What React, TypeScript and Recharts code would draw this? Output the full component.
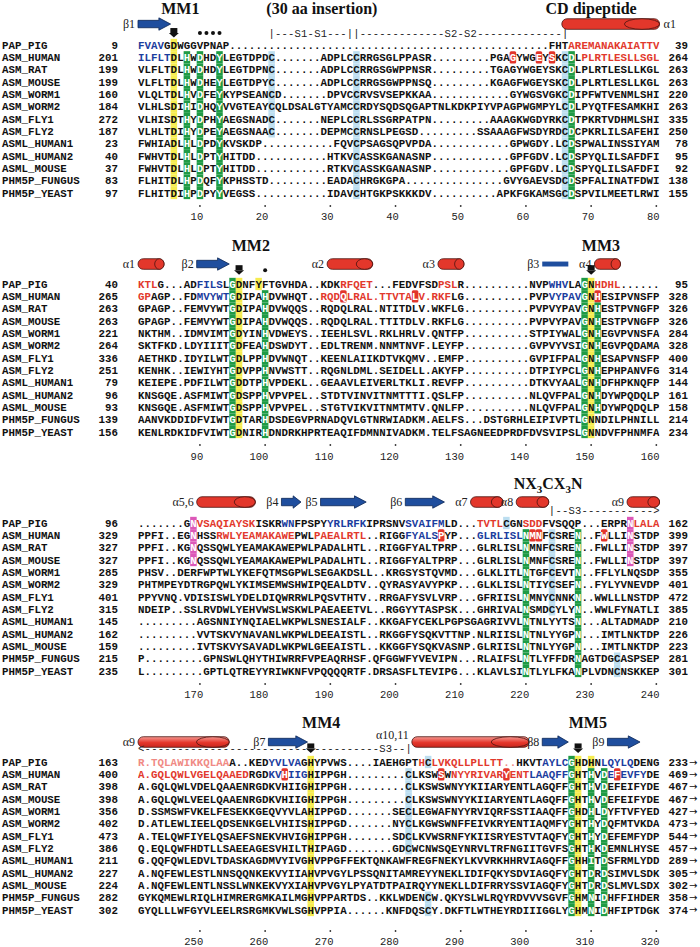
import React from 'react';
import { ScatterChart, Scatter, XAxis, YAxis, ReferenceArea, ReferenceDot } from 'recharts';

const NAMES = ['PAP_PIG', 'ASM_HUMAN', 'ASM_RAT', 'ASM_MOUSE', 'ASM_WORM1', 'ASM_WORM2', 'ASM_FLY1', 'ASM_FLY2', 'ASML_HUMAN1', 'ASML_HUMAN2', 'ASML_MOUSE', 'PHM5P_FUNGUS', 'PHM5P_YEAST'];

// ---- block 1 (alignment columns 1-80)
const START_1 = [9, 201, 199, 199, 160, 184, 272, 187, 23, 40, 37, 83, 97];
const END_1 = [39, 264, 263, 263, 220, 263, 335, 250, 78, 95, 92, 138, 155];
const TICKS_1 = [10, 20, 30, 40, 50, 60, 70, 80];
const SEQ_1 = [
  'FVAVGDWGGVPNAP' + '..........' + '..........' + '..........' + '..........' + '.........' + 'FHTAREMANAKAIATTV',
  'ILFLTDLHWDHDYLEGTDPDC' + '.......' + 'ADPLCCRRGSGLPPASR' + '.........' + 'PGAGYWGEYSKCDLPLRTLESLLSGL',
  'VLFLTDLHWDHDYLEGTDPNC' + '.......' + 'ADPLCCRRGSGWPPNSR' + '.........' + 'TGAGYWGEYSKCDLPLRTLESLLKGL',
  'VLFLTDLHWDHEYLEGTDPYC' + '.......' + 'ADPLCCRRGSGWPPNSQ' + '.........' + 'KGAGFWGEYSKCDLPLRTLESLLKGL',
  'VLQLTDLHVDFEYKYPSEANCD' + '.......' + 'DPVCCRVSVSEPKKAA' + '............' + 'GYWGSVGKCDIPFWTVENMLSHI',
  'VLHLSDIHIDHQYVVGTEAYCQLDSALGTYAMCCRDYSQDSQGAPTNLKDKPIYVPAGPWGMPYLCDLPYQTFESAMKHI',
  'VLHISDTHYDPHYAEGSNADC' + '.......' + 'NEPLCCRLSSGRPATPN' + '.........' + 'AAAGKWGDYRKCDTPKRTVDHMLSHI',
  'VLHLTDIHYDPEYAEGSNAAC' + '.......' + 'DEPMCCRNSLPEGSD' + '.........' + 'SSAAAGFWSDYRDCDCPKRLILSAFEHI',
  'FWHIADLHLDPDYKVSKDP' + '...........' + 'FQVCPSAGSQPVPDA' + '............' + 'GPWGDY.LCDSPWALINSSIYAM',
  'FWHVTDLHLDPTYHITDD' + '...........' + 'HTKVCASSKGANASNP' + '............' + 'GPFGDV.LCDSPYQLILSAFDFI',
  'FWHVTDLHLDPTYHITDD' + '...........' + 'RTKVCASSKGANASNP' + '............' + 'GPFGDV.LCDSPYQLILSAFDFI',
  'FLHITDLHPDQFYKPHSSTD' + '.........' + 'EADACHRGKGPA' + '...............' + 'GVYGAEVSDCDSPFALINATFDWI',
  'FLHITDIHPDPYYVEGSS' + '...........' + 'IDAVCHTGKPSKKKDV' + '..........' + 'APKFGKAMSGCDSPVILMEETLRWI',
];
// [column, first row, last row, kind]
const SHADE_1: [number, number, number, string][] = [
  [6, 0, 12, 'yellow'], [8, 1, 12, 'green'], [10, 1, 12, 'green'], [13, 1, 12, 'green'],
  [21, 1, 7, 'lblue'], [34, 1, 12, 'lblue'], [66, 1, 12, 'lblue'], [67, 1, 12, 'green'],
  [58, 1, 1, 'red'], [62, 1, 1, 'red'], [64, 1, 1, 'red'],
];
// [row, first column, last column, ink]
const INK_1: [number, number, number, string][] = [
  [0, 1, 4, 'blue'], [0, 67, 80, 'red'], [1, 1, 5, 'blue'], [1, 69, 80, 'red'],
];
// [kind, first column, last column, label, label side]
const SS_1: [string, number, number, string, string][] = [
  ['strand', 1, 5, 'β1', 'left'], ['helix', 66, 80, 'α1', 'right'],
];
const TITLES_1: [number, string][] = [[7, 'MM1'], [28.7, '(30 aa insertion)'], [70, 'CD dipeptide']];
const DOWN_1 = [6];
const DOTS_1 = [10, 11, 12, 13];
const MARKS_1: [number, string][] = [[21, '|---S1-S1---||-------------S2-S2-------------|']];

// ---- block 2 (columns 81-160)
const START_2 = [40, 265, 263, 263, 221, 264, 336, 251, 79, 96, 93, 139, 156];
const END_2 = [95, 328, 326, 326, 284, 328, 400, 314, 144, 161, 158, 214, 234];
const TICKS_2 = [90, 100, 110, 120, 130, 140, 150, 160];
const SEQ_2 = [
  'KTLG' + '...' + 'ADFILSLGDNFYFTGVHDA' + '..' + 'KDKRFQET' + '...' + 'FEDVFSDPSLR' + '..........' + 'NVPWHVLAGNHDHL' + '......',
  'GPAGP' + '..' + 'FDMVYWTGDIPAHDVWHQT' + '..' + 'RQDQLRAL' + '.' + 'TTVTALV' + '.' + 'RKFLG' + '..........' + 'PVPVYPAVGNHESIPVNSFP',
  'GPAGP' + '..' + 'FEMVYWTGDIPAHDVWQQS' + '..' + 'RQDQLRAL' + '.' + 'NTITDLV' + '.' + 'WKFLG' + '..........' + 'PVPVYPAVGNHESTPVNGFP',
  'GPAGP' + '..' + 'FEMVYWTGDIPAHDVWQQS' + '..' + 'RQDQLRAL' + '.' + 'TTITDLV' + '.' + 'RKFLG' + '..........' + 'PVPVYPAVGNHESTPVNGFP',
  'NKTHM' + '..' + 'IDMVIMTGDYINHVDWEYS' + '..' + 'IEEHLSVL' + '.' + 'RKLHRLV' + '.' + 'QNTFP' + '..........' + 'STPIYWALGNHEGVPVNSFA',
  'SKTFKD' + '.' + 'LDYIIITGDFEAHDSWDYT' + '..' + 'EDLTRENM' + '.' + 'NNMTNVF' + '.' + 'LEYFP' + '..........' + 'GVPVYVSIGNHEGVPQDAMA',
  'AETHKD' + '.' + 'IDYILWTGDLPPHDVWNQT' + '..' + 'KEENLAIIKDTVKQMV' + '..' + 'EMFP' + '..........' + 'GVPIFPALGNHESAPVNSFP',
  'KENHK' + '..' + 'IEWIYHTGDVPPHNVWSTT' + '..' + 'RQGNLDML' + '.' + 'SEIDELL' + '.' + 'AKYFP' + '..........' + 'DTPIYPCLGNHEPHPANVFG',
  'KEIEPE' + '.' + 'PDFILWTGDDTPHVPDEKL' + '..' + 'GEAAVLEIVERLTKLI' + '.' + 'REVFP' + '..........' + 'DTKVYAALGNHDFHPKNQFP',
  'KNSGQE' + '.' + 'ASFMIWTGDSPPHVPVPEL' + '..' + 'STDTVINVITNMTTTI' + '.' + 'QSLFP' + '..........' + 'NLQVFPALGNHDYWPQDQLP',
  'KNSGQE' + '.' + 'ASFMIWTGDSPPHVPVPEL' + '..' + 'STGTVIKVITNMTMTV' + '.' + 'QNLFP' + '..........' + 'NLQVFPALGNHDYWPQDQLP',
  'AANVKDDIDFVIWTGDTARHDSDEGVPRNADQVLGTNRWIADKM' + '.' + 'AELFS' + '...' + 'DSTGRHLEIPIVPTLGNNDILPHNILL',
  'KENLRDKIDFVIWTGDNIRHDNDRKHPRTEAQIFDMNNIVADKM' + '.' + 'TELFSAGNEEDPRDFDVSVIPSLGNNDVFPHNMFA',
];
const SHADE_2: [number, number, number, string][] = [
  [15, 0, 12, 'green'], [16, 0, 12, 'yellow'], [19, 0, 0, 'yellow'], [20, 1, 12, 'green'],
  [32, 1, 1, 'red'], [43, 1, 1, 'red'],
  [69, 0, 12, 'green'], [70, 0, 12, 'yellow'], [71, 1, 1, 'red'], [71, 2, 10, 'green'],
];
const INK_2: [number, number, number, string][] = [
  [0, 1, 3, 'red'], [0, 10, 13, 'blue'], [0, 32, 36, 'red'], [0, 47, 49, 'red'], [0, 64, 66, 'blue'], [0, 71, 74, 'red'],
  [1, 1, 2, 'red'], [1, 10, 14, 'blue'], [1, 29, 48, 'red'], [1, 64, 68, 'blue'],
];
const SS_2: [string, number, number, string, string][] = [
  ['helix', 1, 4, 'α1', 'left'], ['strand', 10, 14, 'β2', 'left'], ['helix', 30, 36, 'α2', 'left'],
  ['helix', 47, 50, 'α3', 'left'], ['bar', 63, 66, 'β3', 'left'], ['helix', 71, 74, 'α4', 'left'],
];
const TITLES_2: [number, string][] = [[17.8, 'MM2'], [71.5, 'MM3']];
const DOWN_2 = [16, 70];
const DOTS_2 = [20];
const MARKS_2: [number, string][] = [];

// ---- block 3 (columns 161-240)
const START_3 = [96, 329, 327, 327, 285, 329, 401, 315, 145, 162, 159, 215, 235];
const END_3 = [162, 399, 397, 397, 355, 401, 472, 385, 210, 226, 223, 281, 301];
const TICKS_3 = [170, 180, 190, 200, 210, 220, 230, 240];
const SEQ_3 = [
  '.......' + 'GNVSAQIAYSKISKRWNFPSPYYRLRFKIPRSNVSVAIFMLD' + '...' + 'TVTLCGNSDDFVSQQP' + '...' + 'ERPRNLALA',
  'PPFI' + '..' + 'EGNHSSRWLYEAMAKAWEPWLPAEALRTL' + '..' + 'RIGGFYALSPYP' + '...' + 'GLRLISLNMNFCSREN' + '..' + 'FWLLINSTDP',
  'PPFI' + '..' + 'KGNQSSQWLYEAMAKAWEPWLPADALHTL' + '..' + 'RIGGFYALTPRP' + '...' + 'GLRLISLNMNFCSREN' + '..' + 'FWLLINSTDP',
  'PPFI' + '..' + 'KGNQSSQWLYEAMAKAWEPWLPADALHTL' + '..' + 'RIGGFYALTPRP' + '...' + 'GLRLISLNMNFCSREN' + '..' + 'FWLLINSTDP',
  'PHSV' + '..' + 'DERFWPTWLYKEFQTMSGPWLSEGAKDSLL' + '..' + 'KRGSYSTQVMD' + '...' + 'GLKLITLNTGFCEVTN' + '..' + 'FFLYLNQSDP',
  'PHTMPEYDTRGPQWLYKIMSEMWSHWIPQEALDTV' + '..' + 'QYRASYAVYPKP' + '...' + 'GLKLISLNTIYCSEFN' + '..' + 'FYLYVNEVDP',
  'PPYVNQ.VDISISWLYDELDIQWRRWLPQSVTHTV' + '..' + 'RRGAFYSVLVRP' + '...' + 'GFRIISLNMNYCNNKN' + '..' + 'WWLLLNSTDP',
  'NDEIP..SSLRVDWLYEHVWSLWSKWLPAEAEETVL' + '..' + 'RGGYYTASPSK' + '...' + 'GHRIVALNSMDCYLYN' + '..' + 'WWLFYNATLI',
  '.........' + 'AGSNNIYNQIAELWKPWLSNESIALF' + '..' + 'KKGAFYCEKLPGPSGAGRIVVLNTNLYYTSN' + '...' + 'ALTADMADP',
  '.........' + 'VVTSKVYNAVANLWKPWLDEEAISTL' + '..' + 'RKGGFYSQKVTTNP' + '.' + 'NLRIISLNTNLYYGPN' + '...' + 'IMTLNKTDP',
  '.........' + 'IVTSKVYSAVADLWKPWLGEEAISTL' + '..' + 'KKGGFYSQKVASNP' + '.' + 'GLRIISLNTNLYYGPN' + '...' + 'IMTLNKTDP',
  'P' + '.........' + 'GPNSWLQHYTHIWRRFVPEAQRHSF' + '.' + 'QFGGWFYVEVIPN' + '...' + 'RLAIFSLNTLYFFDRNAGTDGCASPSEP',
  'L' + '.........' + 'GPTLQTREYYRIWKNFVPQQQQRTF' + '.' + 'DRSASFLTEVIPG' + '...' + 'KLAVLSINTLYLFKANPLVDNCNSKKEP',
];
const SHADE_3: [number, number, number, string][] = [
  [9, 0, 3, 'pink'], [76, 0, 3, 'pink'], [57, 0, 0, 'lblue'],
  [60, 1, 12, 'green'], [68, 1, 12, 'green'], [64, 1, 7, 'lblue'], [74, 11, 12, 'lblue'],
  [47, 1, 1, 'red'], [61, 1, 1, 'red'], [62, 1, 1, 'red'], [72, 1, 1, 'red'],
];
const INK_3: [number, number, number, string][] = [
  [0, 10, 18, 'red'], [0, 23, 24, 'blue'], [0, 30, 35, 'blue'], [0, 42, 47, 'blue'], [0, 53, 56, 'red'],
  [0, 60, 62, 'red'], [0, 77, 80, 'red'],
  [1, 13, 24, 'red'], [1, 28, 35, 'red'], [1, 42, 46, 'blue'], [1, 53, 59, 'blue'],
];
const SS_3: [string, number, number, string, string][] = [
  ['helix', 10, 18, 'α5,6', 'left'], ['strand', 23, 25, 'β4', 'left'], ['strand', 29, 35, 'β5', 'left'],
  ['strand', 42, 47, 'β6', 'left'], ['helix', 52, 56, 'α7', 'left'], ['helix', 59, 63, 'α8', 'left'],
  ['helix', 76, 80, 'α9', 'left'],
];
const TITLES_3: [number, string][] = [[63.4, 'NX3CX3N']];
const DOWN_3: number[] = [];
const DOTS_3: number[] = [];
const MARKS_3: [number, string][] = [[64, '|--S3----------->']];

// ---- block 4 (columns 241-320)
const START_4 = [163, 400, 398, 398, 356, 402, 473, 386, 211, 227, 224, 282, 302];
const END_4 = [233, 469, 467, 467, 427, 473, 544, 457, 289, 305, 302, 358, 374];
const TICKS_4 = [250, 260, 270, 280, 290, 300, 310, 320];
const SEQ_4 = [
  'R.TQLAWIKKQLAAA' + '..' + 'KEDYVLVAGHYPVWS' + '....' + 'IAEHGPTHCLVKQLLPLLTT' + '..' + 'HKVTAYLCGHDHNLQYLQDENG',
  'A.GQLQWLVGELQAAEDRGDKVHIIGHIPPGH' + '.........' + 'CLKSWSWNYYRIVARYENTLAAQFFGHTHVDEFEVFYDE',
  'A.GQLQWLVDELQAAENRGDKVHIIGHIPPGH' + '.........' + 'CLKSWSWNYYKIIARYENTLAGQFFGHTHVDEFEIFYDE',
  'A.GQLQWLVEELQAAENRGDKVHIIGHIPPGH' + '.........' + 'CLKSWSWNYYKIIARYENTLAGQFFGHTHVDEFEIFYDE',
  'D.SSMSWFVKELFESEKKGEQVYVLAHIPPGD' + '.......' + 'SECLEGWAFNYYRVIQRFSSTIAAQFFGHDHLDYFTVFYED',
  'D.ATLEWLIEELQDSENKGELVHIISHIPPGD' + '.......' + 'NYCLKGWSWNFFEIVKRYENTIAQMFYGHTHYDQFMTVKDA',
  'A.TELQWFIYELQSAEFSNEKVHVIGHIPPGH' + '.......' + 'SDCLKVWSRNFYKIISRYESTVTAQFYGHTHYDEFEMFYDP',
  'Q.EQLQWFHDTLLSAEEAGESVHILTHIPAGD' + '.......' + 'GDCWCNWSQEYNRVLTRFNGIITGVFSGHTHKDEMNLHYSE',
  'G.QQFQWLEDVLTDASKAGDMVYIVGHVPPGFFEKTQNKAWFREGFNEKYLKVVRKHHRVIAGQFFGHHITDSFRMLYDD',
  'A.NQFEWLESTLNNSQQNKEKVYIIAHVPVGYLPSSQNITAMREYYNEKLIDIFQKYSDVIAGQFYGHTDRDSIMVLSDK',
  'A.NQFEWLENTLNSSLWNKEKVYXIAHVPVGYLPYATDTPAIRQYYNEKLLDIFRRYSSVIAGQFYGHTDRDSLMVLSDX',
  'GYKQMEWLRIQLHIMRERGMKAILMGHVPPARTDS' + '..' + 'KKLWDENCW' + '.' + 'QKYSLWLRQYRDVVVSGVFGHMNIDHFFIHDER',
  'GYQLLLWFGYVLEELRSRGMKVWLSGHVPPIA' + '......' + 'KNFDQSCY' + '.' + 'DKFTLWTHEYRDIIIGGLYGHMNIDHFIPTDGK',
];
const SHADE_4: [number, number, number, string][] = [
  [27, 0, 12, 'yellow'], [42, 1, 7, 'lblue'], [45, 0, 0, 'lblue'], [45, 11, 12, 'lblue'],
  [67, 0, 12, 'green'], [68, 0, 12, 'yellow'], [70, 0, 0, 'yellow'], [70, 1, 12, 'green'], [72, 1, 12, 'green'],
  [23, 1, 1, 'red'], [47, 1, 1, 'red'], [57, 1, 1, 'red'], [74, 1, 1, 'red'],
];
const INK_4: [number, number, number, string][] = [
  [0, 1, 14, 'pale'], [0, 21, 25, 'blue'], [0, 44, 44, 'red'], [0, 46, 56, 'red'], [0, 57, 58, 'pale'],
  [0, 63, 66, 'blue'], [0, 72, 76, 'blue'],
  [1, 1, 17, 'red'], [1, 21, 22, 'blue'], [1, 24, 26, 'blue'], [1, 49, 56, 'red'], [1, 58, 60, 'red'],
  [1, 61, 66, 'blue'], [1, 73, 73, 'blue'], [1, 75, 78, 'blue'],
];
const SS_4: [string, number, number, string, string][] = [
  ['helixFade', 1, 14, 'α9', 'left'], ['strand', 21, 26, 'β7', 'left'], ['helixFade', 43, 60, 'α10,11', 'above'],
  ['strand', 63, 66, 'β8', 'left'], ['strand', 73, 77, 'β9', 'left'],
];
const TITLES_4: [number, string][] = [[28.6, 'MM4'], [69.5, 'MM5']];
const DOWN_4 = [27, 68];
const DOTS_4: number[] = [];
const MARKS_4: [number, string][] = [[1, '<------------------------------------S3--|']];

const MONO = "'Liberation Mono', 'Courier New', monospace";
const SERIF = "'Liberation Serif', 'Times New Roman', serif";
const ROW = 12.33;
const CW = 521.6 / 80;
const SEQ_FONT = 10.8;

const INK: Record<string, string> = { red: '#e2392d', blue: '#1b3d9e', pale: '#f08a84' };
const SHADE: Record<string, string> = { green: '#1f9b45', yellow: '#f6ec50', lblue: '#bcdef0', pink: '#dc58b8', red: '#e2352b' };
const WHITE_ON = ['green', 'pink', 'red'];

interface Block {
  offset: number; seq: string[]; start: number[]; end: number[]; ticks: number[];
  shade: [number, number, number, string][]; ink: [number, number, number, string][];
  ss: [string, number, number, string, string][]; titles: [number, string][];
  down: number[]; dots: number[]; marks: [number, string][];
  height: number; row0: number; bottom: number; titleY: number; ssY: number; markY: number;
  tickDot: number; tickLabel: number; arrowEnd?: boolean;
}

const BLOCKS: Block[] = [
  { offset: 0, seq: SEQ_1, start: START_1, end: END_1, ticks: TICKS_1, shade: SHADE_1, ink: INK_1, ss: SS_1, titles: TITLES_1, down: DOWN_1, dots: DOTS_1, marks: MARKS_1,
    height: 230, row0: 45, bottom: 200, titleY: -3.0, ssY: -1.7, markY: -0.97, tickDot: 6, tickLabel: 20 },
  { offset: 80, seq: SEQ_2, start: START_2, end: END_2, ticks: TICKS_2, shade: SHADE_2, ink: INK_2, ss: SS_2, titles: TITLES_2, down: DOWN_2, dots: DOTS_2, marks: MARKS_2,
    height: 240, row0: 54, bottom: 209, titleY: -3.16, ssY: -1.62, markY: -1.12, tickDot: 6, tickLabel: 21 },
  { offset: 160, seq: SEQ_3, start: START_3, end: END_3, ticks: TICKS_3, shade: SHADE_3, ink: INK_3, ss: SS_3, titles: TITLES_3, down: DOWN_3, dots: DOTS_3, marks: MARKS_3,
    height: 235, row0: 53, bottom: 208, titleY: -3.24, ssY: -1.7, markY: -1.05, tickDot: 6, tickLabel: 20 },
  { offset: 240, seq: SEQ_4, start: START_4, end: END_4, ticks: TICKS_4, shade: SHADE_4, ink: INK_4, ss: SS_4, titles: TITLES_4, down: DOWN_4, dots: DOTS_4, marks: MARKS_4,
    height: 242, row0: 57, bottom: 212, titleY: -3.24, ssY: -1.62, markY: -1.1, tickDot: 14, tickLabel: 28, arrowEnd: true },
];

const ROWS = NAMES.map((_, i) => i);

function NameTick(p: any) {
  const i = Number(p.payload.value);
  return (
    <g fontFamily={MONO} fontSize={SEQ_FONT} fontWeight="bold" fill="#111">
      <text x={2} y={p.y} dy="0.35em">{NAMES[i]}</text>
      <text x={118} y={p.y} dy="0.35em" textAnchor="end">{p.start[i]}</text>
      <text x={688} y={p.y} dy="0.35em" textAnchor="end">{p.end[i]}</text>
      {p.arrowEnd && <text x={689} y={p.y} dy="0.35em" fontFamily="'DejaVu Sans', sans-serif" fontWeight="normal" fontSize={10}>→</text>}
    </g>
  );
}

function AxisTick(p: any) {
  return (
    <g>
      <circle cx={p.x} cy={p.y + p.dotDy} r={0.9} fill="#333" />
      <text x={p.x + CW / 2} y={p.y + p.labelDy} textAnchor="end" fontFamily={MONO} fontSize={10.5} fill="#222">{p.payload.value}</text>
    </g>
  );
}

function Cell(p: any) {
  const k = p.payload.kind;
  return (
    <rect x={p.cx - CW / 2} y={p.cy - ROW / 2} width={CW} height={ROW} fill={SHADE[k]}
      rx={k === 'red' ? 1.5 : 0} />
  );
}

function Letter(p: any) {
  return (
    <text x={p.cx} y={p.cy} dy="0.35em" textAnchor="middle" fill={p.payload.fg}
      fontFamily={MONO} fontSize={SEQ_FONT} fontWeight="bold">{p.payload.ch}</text>
  );
}

function SecStruct(p: any) {
  const { x, y, width, height, kind, label, side } = p;
  const mid = y + height / 2;
  let body;
  if (kind === 'helix' || kind === 'helixFade') {
    const cap = Math.min(width * 0.36, 38);
    const id = `hx${Math.round(x)}_${Math.round(y)}`;
    const fill = kind === 'helixFade' ? `url(#${id})` : '#e3372b';
    body = (
      <g>
        <defs>
          <linearGradient id={id} x1="0" y1="0" x2="0" y2="1">
            <stop offset="0%" stopColor="#f59a94" />
            <stop offset="55%" stopColor="#e5372c" />
            <stop offset="100%" stopColor="#c8261d" />
          </linearGradient>
        </defs>
        <rect x={x} y={y} width={width} height={height} rx={height / 2} fill={fill} stroke="#4a1410" strokeWidth={0.8} />
        <ellipse cx={x + width - cap / 2} cy={mid} rx={cap / 2} ry={height / 2} fill={fill} stroke="#4a1410" strokeWidth={0.8} />
      </g>
    );
  } else if (kind === 'bar') {
    body = <rect x={x} y={y} width={width} height={height} fill="#1f4e9e" />;
  } else {
    const head = Math.min(height * 0.95, width * 0.4);
    const t = y + height * 0.2;
    const b = y + height * 0.8;
    const pts = [
      [x, t], [x + width - head, t], [x + width - head, y], [x + width, mid],
      [x + width - head, y + height], [x + width - head, b], [x, b],
    ].map((q) => q.join(',')).join(' ');
    body = <polygon points={pts} fill="#1f4e9e" stroke="#0c2755" strokeWidth={0.8} />;
  }
  let lx = x - 3;
  let ly = mid + 4;
  let anchor: 'start' | 'end' = 'end';
  if (side === 'right') { lx = x + width + 4; anchor = 'start'; }
  if (side === 'above') { ly = mid - 3; }
  return (
    <g>
      {body}
      <text x={lx} y={ly} textAnchor={anchor} fontFamily={SERIF} fontSize={12} fill="#222">{label}</text>
    </g>
  );
}

function MarkText(p: any) {
  const { x, y, width, height, text } = p;
  const step = width / text.length;
  return (
    <g fontFamily={MONO} fontSize={10.5} fill="#222">
      {text.split('').map((c: string, i: number) => (
        <text key={i} x={x + (i + 0.5) * step} y={y + height / 2} dy="0.35em" textAnchor="middle">{c}</text>
      ))}
    </g>
  );
}

function Title(p: any) {
  const common = { x: p.cx, y: p.cy, dy: '0.35em', textAnchor: 'middle' as const, fontFamily: SERIF, fontSize: 16, fontWeight: 'bold' as const, fill: '#111' };
  if (p.text === 'NX3CX3N') {
    return (
      <text {...common}>
        NX<tspan fontSize={11} dy={4}>3</tspan><tspan dy={-4}>CX</tspan><tspan fontSize={11} dy={4}>3</tspan><tspan dy={-4}>N</tspan>
      </text>
    );
  }
  return <text {...common}>{p.text}</text>;
}

function DownArrow(p: any) {
  const { cx, cy } = p;
  return (
    <g fill="#111">
      <rect x={cx - 3.5} y={cy - 5} width={7} height={5} />
      <polygon points={`${cx - 5},${cy} ${cx + 5},${cy} ${cx},${cy + 4.5}`} />
    </g>
  );
}

function AlignmentBlock({ b }: { b: Block }) {
  const yMin = -b.row0 / ROW;
  const yMax = (b.bottom - b.row0) / ROW;

  const shadeAt: Record<string, string> = {};
  b.shade.forEach(([col, r0, r1, kind]) => {
    for (let r = r0; r <= r1; r++) shadeAt[`${r}:${col}`] = kind;
  });
  const inkAt: Record<string, string> = {};
  b.ink.forEach(([r, c0, c1, key]) => {
    for (let c = c0; c <= c1; c++) inkAt[`${r}:${c}`] = INK[key];
  });

  const cells: any[] = [];
  const letters: any[] = [];
  b.seq.forEach((s, r) => {
    s.split('').forEach((ch, i) => {
      const col = i + 1;
      const key = `${r}:${col}`;
      const kind = shadeAt[key];
      if (kind) cells.push({ x: b.offset + col, y: r, kind });
      const fg = kind && WHITE_ON.includes(kind) ? '#ffffff' : inkAt[key] || '#111';
      letters.push({ x: b.offset + col, y: r, ch, fg });
    });
  });

  const o = b.offset;
  return (
    <ScatterChart width={700} height={b.height} margin={{ top: 0, right: 700 - 138 - 521.6, bottom: 0, left: 0 }}>
      <XAxis type="number" dataKey="x" domain={[o + 0.5, o + 80.5]} allowDataOverflow ticks={b.ticks} interval={0}
        axisLine={false} tickLine={false} tickSize={0} tickMargin={0} height={b.height - b.bottom}
        tick={(p: any) => <AxisTick {...p} dotDy={b.tickDot} labelDy={b.tickLabel} />} />
      <YAxis yAxisId="l" type="number" dataKey="y" domain={[yMin, yMax]} reversed allowDataOverflow ticks={ROWS} interval={0}
        width={138} axisLine={false} tickLine={false}
        tick={(p: any) => <NameTick {...p} start={b.start} end={b.end} arrowEnd={b.arrowEnd} />} />
      <Scatter yAxisId="l" data={cells} shape={(p: any) => <Cell {...p} />} isAnimationActive={false} />
      <Scatter yAxisId="l" data={letters} shape={(p: any) => <Letter {...p} />} isAnimationActive={false} />
      {b.ss.map(([kind, c0, c1, label, side], i) => {
        const half = kind === 'bar' ? 0.2 : kind === 'strand' ? 0.5 : 0.43;
        return (
          <ReferenceArea key={`ss${i}`} yAxisId="l" x1={o + c0 - 0.5} x2={o + c1 + 0.5} y1={b.ssY - half} y2={b.ssY + half}
            ifOverflow="visible" shape={(p: any) => <SecStruct {...p} kind={kind} label={label} side={side} />} />
        );
      })}
      {b.marks.map(([c0, text], i) => (
        <ReferenceArea key={`mk${i}`} yAxisId="l" x1={o + c0 - 0.5} x2={o + c0 + text.length - 0.5} y1={b.markY - 0.4} y2={b.markY + 0.4}
          ifOverflow="visible" shape={(p: any) => <MarkText {...p} text={text} />} />
      ))}
      {b.titles.map(([c, text], i) => (
        <ReferenceDot key={`t${i}`} yAxisId="l" x={o + c} y={b.titleY} r={0} ifOverflow="visible"
          shape={(p: any) => <Title {...p} text={text} />} />
      ))}
      {b.down.map((c, i) => (
        <ReferenceDot key={`d${i}`} yAxisId="l" x={o + c} y={b.markY} r={0} ifOverflow="visible"
          shape={(p: any) => <DownArrow {...p} />} />
      ))}
      {b.dots.map((c, i) => (
        <ReferenceDot key={`o${i}`} yAxisId="l" x={o + c} y={b.markY} r={2} fill="#111" stroke="none" ifOverflow="visible" />
      ))}
    </ScatterChart>
  );
}

export default function App() {
  return (
    <div style={{ width: 700, background: '#fff' }}>
      <style>{'body{margin:0;background:#fff}'}</style>
      {BLOCKS.map((b, i) => <AlignmentBlock key={i} b={b} />)}
    </div>
  );
}
